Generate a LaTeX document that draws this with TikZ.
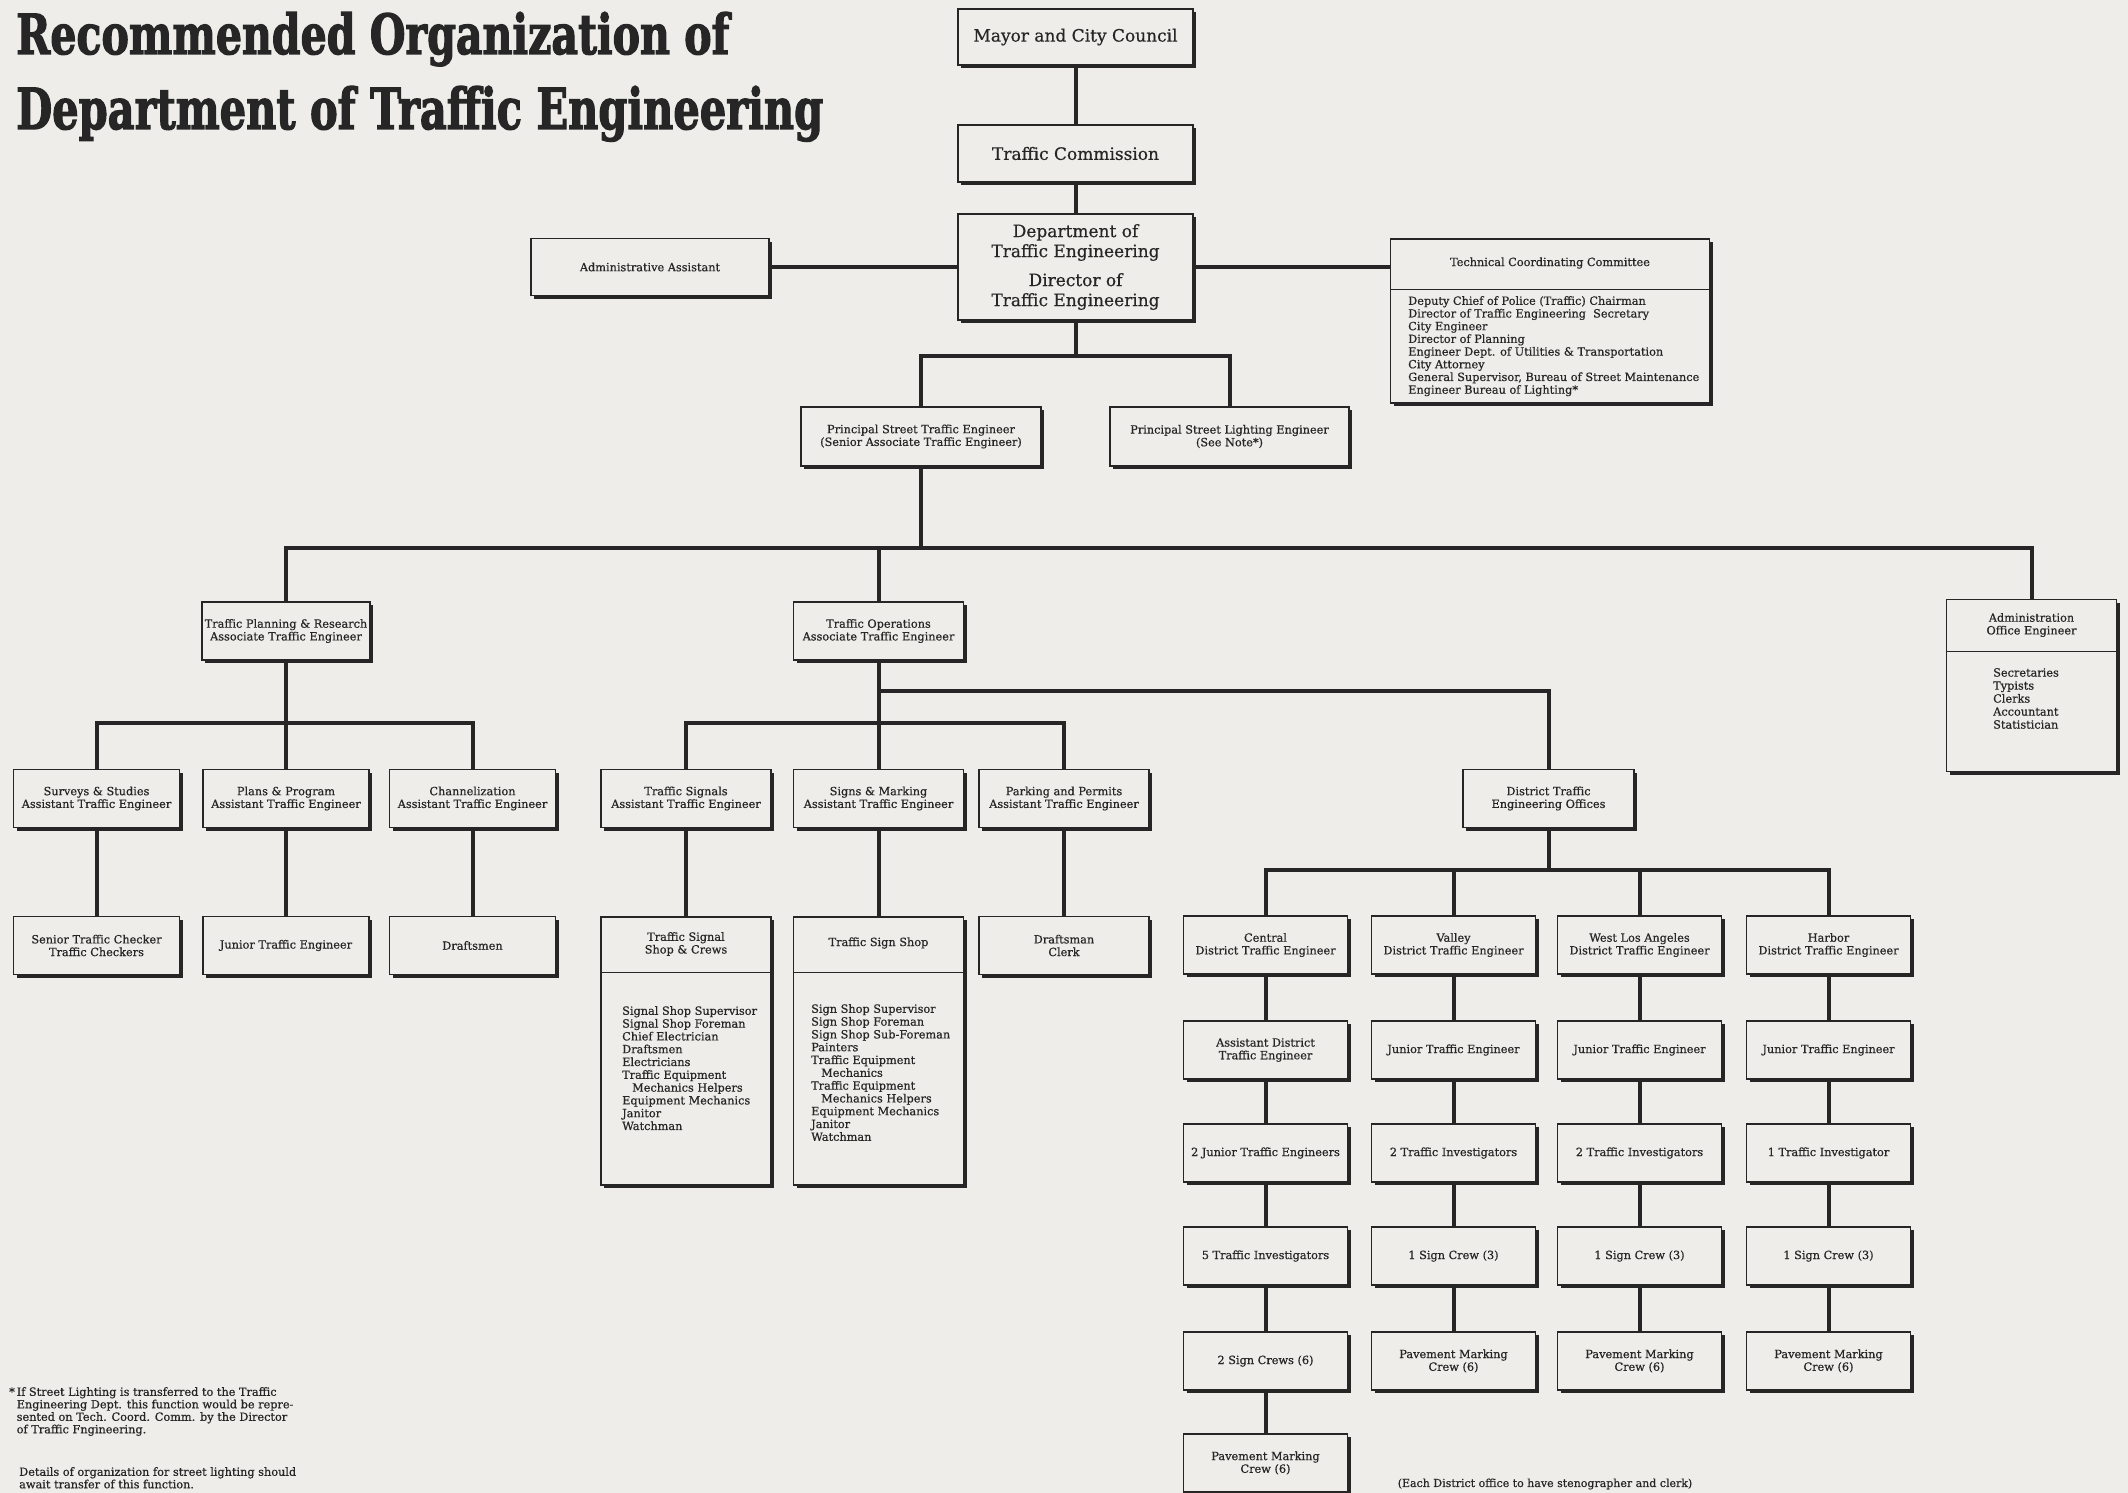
\documentclass[tikz,border=0pt]{standalone}
\usepackage{xcolor}
\usepackage{graphicx}
\usepackage{fontspec}
\usetikzlibrary{shadows}
\newfontfamily\chartfont{DejaVu Serif}[FakeBold=0.6]
\newfontfamily\titlefont{DejaVu Serif Bold}[FakeBold=2.5]
\definecolor{paper}{RGB}{238,237,233}
\definecolor{ink}{RGB}{38,38,38}
\newcommand\unitfont{\chartfont\fontsize{11.3}{12.7}\selectfont}
\newcommand\headfont{\chartfont\fontsize{17}{20}\selectfont}

\begin{document}
\begin{tikzpicture}[x=1pt, y=-1pt,
    unit/.style={draw=ink, line width=1.3pt, fill=paper, text=ink, font=\unitfont,
        align=center, minimum width=166, minimum height=58, inner sep=1pt,
        drop shadow={shadow xshift=3pt, shadow yshift=-3pt, fill=ink, opacity=1}},
    topunit/.style={unit, font=\headfont, minimum width=235, minimum height=57},
    wideunit/.style={unit, minimum width=170},
    district/.style={unit, minimum width=164},
    roster/.style={text=ink, font=\unitfont, align=left, anchor=north west, inner sep=0pt},
    caption/.style={text=ink, font=\unitfont, align=center, inner sep=0pt},
    link/.style={draw=ink, line width=4pt},
    rule/.style={draw=ink, line width=1pt}]
    \fill[paper] (0,0) rectangle (2128,1493);
    \useasboundingbox (0,0) rectangle (2128,1493);

    % title
    \node[anchor=base west, inner sep=0pt, text=ink] (title1) at (16,54)
        {\resizebox{713pt}{42pt}{\titlefont Recommended Organization of}};
    \node[anchor=base west, inner sep=0pt, text=ink] (title2) at (16,129)
        {\resizebox{807pt}{43pt}{\titlefont Department of Traffic Engineering}};

    % top of the chart
    \node[topunit, minimum height=56] (mayor) at (1075.5,37) {Mayor and City Council};
    \node[topunit] (comm) at (1075.5,153.5) {Traffic Commission};
    \node[topunit, minimum height=106] (dept) at (1075.5,267)
        {Department of\\Traffic Engineering\\[9pt]Director of\\Traffic Engineering};
    \node[unit, minimum width=238, minimum height=57] (adminasst) at (650,267) {Administrative Assistant};
    \node[unit, minimum width=319, minimum height=164] (tcc) at (1550,321) {};
    \node[caption] (tcchead) at (1550,263) {Technical Coordinating Committee};
    \draw[rule] (tcc.west |- 0,289) -- (tcc.east |- 0,289);
    \node[roster] (tcclist) at (1408,296) {Deputy Chief of Police (Traffic) Chairman\\
        Director of Traffic Engineering\ \ Secretary\\City Engineer\\Director of Planning\\
        Engineer Dept. of Utilities \& Transportation\\City Attorney\\
        General Supervisor, Bureau of Street Maintenance\\Engineer Bureau of Lighting*};

    \node[unit, minimum width=240, minimum height=59] (pste) at (921,436.5)
        {Principal Street Traffic Engineer\\(Senior Associate Traffic Engineer)};
    \node[unit, minimum width=239, minimum height=59] (psle) at (1229.5,436.5)
        {Principal Street Lighting Engineer\\(See Note*)};

    % divisions
    \node[unit, minimum width=168] (tpr) at (286,631) {Traffic Planning \& Research\\Associate Traffic Engineer};
    \node[wideunit] (ops) at (878.5,631) {Traffic Operations\\Associate Traffic Engineer};
    \node[wideunit, minimum height=172] (aoe) at (2031.5,685.5) {};
    \node[caption] (aoehead) at (2031.5,625) {Administration\\Office Engineer};
    \draw[rule] (aoe.west |- 0,651) -- (aoe.east |- 0,651);
    \node[roster, font=\chartfont\fontsize{11.3}{13}\selectfont] (aoelist) at (1993,668)
        {Secretaries\\Typists\\Clerks\\Accountant\\Statistician};

    % sections
    \node[unit] (surveys) at (96.5,798.5) {Surveys \& Studies\\Assistant Traffic Engineer};
    \node[unit] (plans) at (286,798.5) {Plans \& Program\\Assistant Traffic Engineer};
    \node[unit] (chan) at (472.5,798.5) {Channelization\\Assistant Traffic Engineer};
    \node[wideunit] (signals) at (686,798.5) {Traffic Signals\\Assistant Traffic Engineer};
    \node[wideunit] (signs) at (878.5,798.5) {Signs \& Marking\\Assistant Traffic Engineer};
    \node[wideunit] (parking) at (1064,798.5) {Parking and Permits\\Assistant Traffic Engineer};
    \node[unit, minimum width=171] (dto) at (1548.5,798.5) {District Traffic\\Engineering Offices};

    \node[unit] (checkers) at (96.5,945.5) {Senior Traffic Checker\\Traffic Checkers};
    \node[unit] (junior) at (286,945.5) {Junior Traffic Engineer};
    \node[unit] (draftsmen) at (472.5,945.5) {Draftsmen};
    \node[wideunit] (clerk) at (1064,945.5) {Draftsman\\Clerk};

    \node[wideunit, minimum height=268] (signalshop) at (686,1051) {};
    \node[caption] (signalhead) at (686,944) {Traffic Signal\\Shop \& Crews};
    \draw[rule] (signalshop.west |- 0,972) -- (signalshop.east |- 0,972);
    \node[roster, font=\chartfont\fontsize{11.3}{12.8}\selectfont] (signallist) at (622,1006)
        {Signal Shop Supervisor\\Signal Shop Foreman\\Chief Electrician\\Draftsmen\\Electricians\\
        Traffic Equipment\\\hspace*{10pt}Mechanics Helpers\\Equipment Mechanics\\Janitor\\Watchman};
    \node[wideunit, minimum height=268] (signshop) at (878.5,1051) {};
    \node[caption] (signhead) at (878.5,943) {Traffic Sign Shop};
    \draw[rule] (signshop.west |- 0,972) -- (signshop.east |- 0,972);
    \node[roster, font=\chartfont\fontsize{11.3}{12.8}\selectfont] (signlist) at (811,1004)
        {Sign Shop Supervisor\\Sign Shop Foreman\\Sign Shop Sub-Foreman\\Painters\\
        Traffic Equipment\\\hspace*{10pt}Mechanics\\Traffic Equipment\\\hspace*{10pt}Mechanics Helpers\\
        Equipment Mechanics\\Janitor\\Watchman};

    % district offices
    \node[district] (central) at (1265.5,945) {Central\\District Traffic Engineer};
    \node[district] (cenasst) at (1265.5,1050) {Assistant District\\Traffic Engineer};
    \node[district] (cenjun) at (1265.5,1153) {2 Junior Traffic Engineers};
    \node[district] (ceninv) at (1265.5,1256) {5 Traffic Investigators};
    \node[district] (censign) at (1265.5,1361) {2 Sign Crews (6)};
    \node[district] (cenpave) at (1265.5,1463) {Pavement Marking\\Crew (6)};

    \node[district] (valley) at (1453.5,945) {Valley\\District Traffic Engineer};
    \node[district] (valjun) at (1453.5,1050) {Junior Traffic Engineer};
    \node[district] (valinv) at (1453.5,1153) {2 Traffic Investigators};
    \node[district] (valsign) at (1453.5,1256) {1 Sign Crew (3)};
    \node[district] (valpave) at (1453.5,1361) {Pavement Marking\\Crew (6)};

    \node[district] (westla) at (1639.5,945) {West Los Angeles\\District Traffic Engineer};
    \node[district] (wlajun) at (1639.5,1050) {Junior Traffic Engineer};
    \node[district] (wlainv) at (1639.5,1153) {2 Traffic Investigators};
    \node[district] (wlasign) at (1639.5,1256) {1 Sign Crew (3)};
    \node[district] (wlapave) at (1639.5,1361) {Pavement Marking\\Crew (6)};

    \node[district] (harbor) at (1828.5,945) {Harbor\\District Traffic Engineer};
    \node[district] (harjun) at (1828.5,1050) {Junior Traffic Engineer};
    \node[district] (harinv) at (1828.5,1153) {1 Traffic Investigator};
    \node[district] (harsign) at (1828.5,1256) {1 Sign Crew (3)};
    \node[district] (harpave) at (1828.5,1361) {Pavement Marking\\Crew (6)};

    % connectors
    \coordinate (busdir) at (1075.5,356);
    \coordinate (busmain) at (921,548);
    \coordinate (busplan) at (286,723);
    \coordinate (busdist) at (878.5,691);
    \coordinate (busops) at (878.5,723);
    \coordinate (busoff) at (1548.5,870);

    \draw[link] (mayor) -- (comm);
    \draw[link] (comm) -- (dept);
    \draw[link] (dept.west) -- (adminasst.east);
    \draw[link] (dept.east) -- (dept.east -| tcc.west);
    \draw[link] (dept.south) -- (busdir);
    \draw[link] (pste.north) |- (busdir) -| (psle.north);
    \draw[link] (pste.south) -- (busmain);
    \draw[link] (tpr.north) |- (busmain) -| (aoe.north);
    \draw[link] (ops.north) -- (ops.north |- busmain);
    \draw[link] (tpr.south) -- (plans.north);
    \draw[link] (surveys.north) |- (busplan) -| (chan.north);
    \draw[link] (ops.south) -- (signs.north);
    \draw[link] (signals.north) |- (busops) -| (parking.north);
    \draw[link] (busdist) -| (dto.north);
    \draw[link] (dto.south) -- (busoff);
    \draw[link] (central.north) |- (busoff) -| (harbor.north);
    \draw[link] (valley.north) -- (valley.north |- busoff);
    \draw[link] (westla.north) -- (westla.north |- busoff);
    \foreach \a/\b in {surveys/checkers, plans/junior, chan/draftsmen, signals/signalshop,
        signs/signshop, parking/clerk, central/cenasst, cenasst/cenjun, cenjun/ceninv,
        ceninv/censign, censign/cenpave, valley/valjun, valjun/valinv, valinv/valsign,
        valsign/valpave, westla/wlajun, wlajun/wlainv, wlainv/wlasign, wlasign/wlapave,
        harbor/harjun, harjun/harinv, harinv/harsign, harsign/harpave}
        \draw[link] (\a) -- (\b);

    % notes
    \node[roster, font=\chartfont\fontsize{11.3}{12.5}\selectfont] (lightnote) at (9,1387)
        {*\,If Street Lighting is transferred to the Traffic\\
        \hphantom{*\,}Engineering Dept. this function would be repre-\\
        \hphantom{*\,}sented on Tech. Coord. Comm. by the Director\\
        \hphantom{*\,}of Traffic Fngineering.};
    \node[roster, font=\chartfont\fontsize{11.3}{12.5}\selectfont] (lightdetail) at (19,1467)
        {Details of organization for street lighting should\\await transfer of this function.};
    \node[caption, font=\chartfont\fontsize{11}{12}\selectfont] (stenonote) at (1545,1484)
        {(Each District office to have stenographer and clerk)};
\end{tikzpicture}
\end{document}
